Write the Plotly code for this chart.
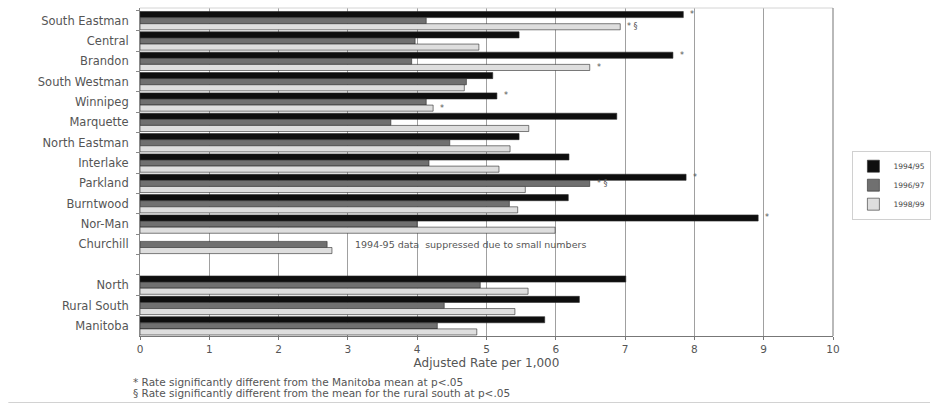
import plotly.graph_objects as go

# Regions, top to bottom; a blank slot separates the regional rows from the summary rows
regions = ["South Eastman", "Central", "Brandon", "South Westman", "Winnipeg",
           "Marquette", "North Eastman", "Interlake", "Parkland", "Burntwood",
           "Nor-Man", "Churchill", " ", "North", "Rural South", "Manitoba"]

rate_1994_95 = [7.84, 5.47, 7.69, 5.09, 5.15, 6.88, 5.47, 6.19, 7.88, 6.18,
                8.92, None, None, 7.01, 6.34, 5.84]
rate_1996_97 = [4.13, 3.97, 3.92, 4.71, 4.13, 3.62, 4.47, 4.17, 6.49, 5.33,
                4.00, 2.70, None, 4.91, 4.39, 4.29]
rate_1998_99 = [6.93, 4.89, 6.49, 4.68, 4.23, 5.61, 5.34, 5.18, 5.56, 5.45,
                5.99, 2.77, None, 5.60, 5.41, 4.86]

periods = ["1994/95", "1996/97", "1998/99"]
fills = ["#0e0e0e", "#707070", "#dedede"]

# Significance markers: (region, series index, text)
flags = [("South Eastman", 0, "*"), ("South Eastman", 2, "* §"),
         ("Brandon", 0, "*"), ("Brandon", 2, "*"),
         ("Winnipeg", 0, "*"), ("Winnipeg", 2, "*"),
         ("Parkland", 0, "*"), ("Parkland", 1, "* §"),
         ("Nor-Man", 0, "*")]

x_ticks = list(range(0, 11))
font_family = "DejaVu Sans, Arial, sans-serif"

fig = go.Figure()
series = [rate_1994_95, rate_1996_97, rate_1998_99]
for name, vals, col in zip(periods, series, fills):
    fig.add_trace(go.Bar(
        y=regions, x=vals, name=name, orientation="h",
        marker=dict(color=col, line=dict(color="#2a2a2a", width=0.6)),
    ))

# each bar is about 6 px tall inside a 20.5 px slot
bar_px = 6.15
for region, k, txt in flags:
    val = series[k][regions.index(region)]
    fig.add_annotation(x=val, y=region, xref="x", yref="y", text=txt,
                       showarrow=False, xanchor="left", xshift=5,
                       yshift=(1 - k) * bar_px,
                       font=dict(size=8, color="#555", family=font_family))

fig.add_annotation(x=3.07, y="Churchill", xref="x", yref="y",
                   text="1994-95 data  suppressed due to small numbers",
                   showarrow=False, xanchor="left",
                   font=dict(size=9.5, color="#555", family=font_family))

# footnotes
fig.add_annotation(x=-0.013, y=-0.139, xref="paper", yref="paper",
                   text="* Rate significantly different from the Manitoba mean at p<.05",
                   showarrow=False, xanchor="left", yanchor="middle",
                   font=dict(size=10.5, color="#555", family=font_family))
fig.add_annotation(x=-0.013, y=-0.174, xref="paper", yref="paper",
                   text="§ Rate significantly different from the mean for the rural south at p<.05",
                   showarrow=False, xanchor="left", yanchor="middle",
                   font=dict(size=10.5, color="#555", family=font_family))

# thin rule under the footnotes
fig.add_shape(type="line", xref="paper", yref="paper",
              x0=-0.19, x1=1.14, y0=-0.203, y1=-0.203,
              line=dict(color="#cfcfcf", width=1))

# frame: light top edge, grey right edge
fig.add_shape(type="line", xref="paper", yref="paper",
              x0=0, x1=1, y0=1, y1=1, line=dict(color="#d4d4d4", width=1))
fig.add_shape(type="line", xref="paper", yref="paper",
              x0=1, x1=1, y0=0, y1=1, line=dict(color="#8a8a8a", width=1.2))

fig.update_layout(
    width=933, height=403,
    margin=dict(l=140, r=100, t=8, b=67, autoexpand=False),
    paper_bgcolor="white", plot_bgcolor="white",
    barmode="group", bargap=0.1, bargroupgap=0,
    font=dict(family=font_family, color="#555"),
    legend=dict(x=1.028, y=0.565, xanchor="left", yanchor="top",
                bordercolor="#d0d0d0", borderwidth=1,
                font=dict(size=7.5, color="#444", family=font_family),
                itemwidth=30, tracegroupgap=0),
    xaxis=dict(range=[0, 10], tickvals=x_ticks, ticktext=[str(t) for t in x_ticks],
               showgrid=True, gridcolor="#a0a0a0", gridwidth=1,
               showline=True, linecolor="#777", linewidth=1,
               ticks="outside", ticklen=3, tickcolor="#777",
               tickfont=dict(size=10.5, color="#555"),
               title=dict(text="Adjusted Rate per 1,000", standoff=5,
                          font=dict(size=12, color="#555")),
               zeroline=False),
    yaxis=dict(categoryorder="array", categoryarray=regions,
               autorange="reversed", tickson="boundaries",
               ticks="outside", ticklen=3, tickcolor="#888",
               showline=True, linecolor="#888", linewidth=1,
               showgrid=False, ticklabelstandoff=8,
               tickfont=dict(size=11.5, color="#555")),
)

fig.write_html("out.html")
